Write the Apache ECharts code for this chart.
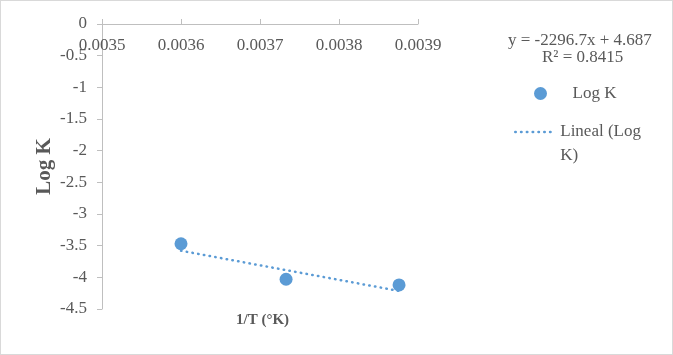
<!DOCTYPE html>
<html>
<head>
<meta charset="utf-8">
<script src="https://cdn.jsdelivr.net/npm/echarts@6/dist/echarts.min.js"></script>
<style>
  html, body { margin: 0; padding: 0; background: #fff; }
  #chartContainer { width: 671px; height: 353px; border: 1px solid #d9d9d9; }
</style>
</head>
<body>
<div id="chartContainer"></div>
<script>
// puntos medidos (1/T, Log K)
const invT = [0.0036, 0.003733, 0.003876];
const logK = [-3.47, -4.03, -4.12];
// extremos de la línea de tendencia
const trendX = [0.0036, 0.003876];
const trendY = [-3.58, -4.215];
const xTicks = [0.0035, 0.0036, 0.0037, 0.0038, 0.0039];
const yTicks = [0, -0.5, -1, -1.5, -2, -2.5, -3, -3.5, -4, -4.5];

const serif = '"Liberation Serif", "DejaVu Serif", serif';
const gray = '#595959';
const blue = '#5b9bd5';
const dots = [0.5, 5.3];

const chart = echarts.init(document.getElementById('chartContainer'), null, {renderer: 'canvas'});
const option = {
    animation: false,
    grid: {left: 101, top: 23, right: 254, bottom: 45},
    xAxis: {
        type: 'value',
        position: 'top',
        min: xTicks[0],
        max: xTicks[xTicks.length - 1],
        interval: 0.0001,
        axisLine: {onZero: false, lineStyle: {color: '#bfbfbf', width: 1}},
        axisTick: {show: true, length: 5, lineStyle: {color: '#bfbfbf'}},
        axisLabel: {
            inside: true,
            margin: 13,
            color: gray,
            fontFamily: serif,
            fontSize: 17,
            formatter: v => v.toFixed(4)
        },
        splitLine: {show: false}
    },
    yAxis: {
        type: 'value',
        min: yTicks[yTicks.length - 1],
        max: yTicks[0],
        interval: 0.5,
        name: 'Log K',
        nameLocation: 'middle',
        nameGap: 47,
        nameTextStyle: {color: gray, fontFamily: serif, fontSize: 21, fontWeight: 'bold'},
        axisLine: {show: true, lineStyle: {color: '#bfbfbf', width: 1}},
        axisTick: {show: true, length: 5, lineStyle: {color: '#bfbfbf'}},
        axisLabel: {color: gray, fontFamily: serif, fontSize: 17, margin: 15},
        splitLine: {show: false}
    },
    legend: [
        {
            data: [{name: 'Log K', icon: 'circle'}],
            left: 528,
            top: 79,
            itemWidth: 26,
            itemHeight: 13,
            textStyle: {color: gray, fontFamily: serif, fontSize: 17, padding: [0, 0, 0, 14]}
        },
        {
            data: ['Lineal (Log K)'],
            left: 508,
            top: 90,
            itemWidth: 40,
            itemHeight: 14,
            itemStyle: {opacity: 0},
            lineStyle: {color: blue, width: 2.5, type: dots, cap: 'round', opacity: 1},
            // línea vacía arriba para que el icono quede junto a la primera línea
            formatter: name => ' \nLineal (Log\nK)',
            textStyle: {color: gray, fontFamily: serif, fontSize: 17, lineHeight: 24}
        }
    ],
    graphic: [
        {
            type: 'text',
            left: 507,
            top: 31,
            style: {
                text: 'y = -2296.7x + 4.687\n        R² = 0.8415',
                fill: gray,
                font: '17px ' + serif,
                lineHeight: 17
            }
        },
        {
            type: 'text',
            left: 235,
            top: 312,
            style: {
                text: '1/T (°K)',
                fill: gray,
                font: 'bold 15px ' + serif
            }
        }
    ],
    series: [
        {
            name: 'Log K',
            type: 'scatter',
            symbol: 'circle',
            symbolSize: 13,
            itemStyle: {color: blue, opacity: 1},
            data: invT.map((x, i) => [x, logK[i]]),
            z: 3
        },
        {
            name: 'Lineal (Log K)',
            type: 'line',
            symbol: 'none',
            lineStyle: {color: blue, width: 2.5, type: dots, cap: 'round'},
            itemStyle: {color: blue},
            data: trendX.map((x, i) => [x, trendY[i]]),
            z: 2
        }
    ]
};
chart.setOption(option);
</script>
</body>
</html>
